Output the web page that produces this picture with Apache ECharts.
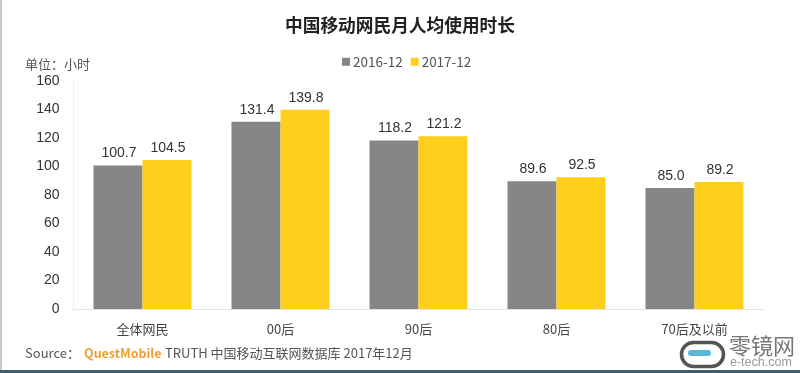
<!DOCTYPE html>
<html><head><meta charset="utf-8">
<style>html,body{margin:0;padding:0;background:#fff}#c{width:800px;height:373px}</style>
<script src="https://cdn.jsdelivr.net/npm/echarts@6/dist/echarts.min.js"></script>
</head><body><div id="c"></div>
<script>
const categories = ['全体网民','00后','90后','80后','70后及以前'];
const series2016 = [100.7,131.4,118.2,89.6,85.0];
const series2017 = [104.5,139.8,121.2,92.5,89.2];
const yTicks = {min:0,max:160,interval:20};
const F = '"Noto Sans CJK SC","Liberation Sans",sans-serif';
const A = '"Liberation Sans","Noto Sans CJK SC",sans-serif';
const chart = echarts.init(document.getElementById('c'),null,{renderer:'canvas'});
const label = {show:true,position:'top',distance:5,offset:[1,0],color:'#333',fontFamily:A,fontSize:14,formatter:p=>p.value.toFixed(1)};
chart.setOption({
  animation:false,
  backgroundColor:'#fff',
  title:{text:'中国移动网民月人均使用时长',left:280,top:11,textStyle:{fontFamily:F,fontSize:17.7,fontWeight:'bold',color:'#222'}},
  legend:{top:50,left:337,itemWidth:8,itemHeight:8,itemGap:8,icon:'rect',textStyle:{fontFamily:F,fontSize:13.5,color:'#555',padding:[0,0,0,-2]},data:['2016-12','2017-12']},
  grid:{left:73.5,right:36.5,top:81,bottom:64},
  xAxis:{type:'category',data:categories,axisTick:{show:false},axisLine:{lineStyle:{color:'#e3e3e3'}},axisLabel:{margin:14,fontFamily:F,fontSize:13,color:'#444'}},
  yAxis:{type:'value',min:yTicks.min,max:yTicks.max,interval:yTicks.interval,splitLine:{show:false},axisTick:{show:false},axisLine:{show:true,lineStyle:{color:'#eeeeee'}},axisLabel:{margin:14,fontFamily:A,fontSize:14,color:'#333'}},
  series:[
    {name:'2016-12',type:'bar',data:series2016,barWidth:49,barGap:'0%',itemStyle:{color:'#868686'},label},
    {name:'2017-12',type:'bar',data:series2017,barWidth:49,barGap:'0%',itemStyle:{color:'#ffcf1c'},label}
  ],
  graphic:[
    {type:'rect',left:0,top:0,shape:{width:2,height:373},style:{fill:'#c9c9c9'}},
    {type:'rect',left:0,top:370,shape:{width:800,height:3},style:{fill:'#3f5f70'}},
    {type:'text',left:25,top:58,style:{text:'单位：小时',fontFamily:F,fontSize:13,fill:'#555'}},
    {type:'text',left:25,top:347,style:{text:'Source：',fontFamily:F,fontSize:13,fill:'#555'}},
    {type:'text',left:84,top:347,style:{text:'QuestMobile',fontFamily:F,fontSize:12.5,fontWeight:'bold',fill:'#f0a030'}},
    {type:'text',left:165,top:347,style:{text:'TRUTH 中国移动互联网数据库 2017年12月',fontFamily:F,fontSize:13,fill:'#555'}},
    {type:'rect',left:679,top:340,shape:{width:42,height:24,r:12},style:{fill:'none',stroke:'#555',lineWidth:3.5}},
    {type:'rect',left:688,top:350,shape:{width:23,height:6,r:3},style:{fill:'#55b8dc'}},
    {type:'text',left:729,top:335,style:{text:'零镜网',fontFamily:F,fontSize:22,fill:'#777'}},
    {type:'text',left:730,top:356,style:{text:'e-tech.com',fontFamily:A,fontSize:12.5,fill:'#999'}}
  ]
});
</script></body></html>
